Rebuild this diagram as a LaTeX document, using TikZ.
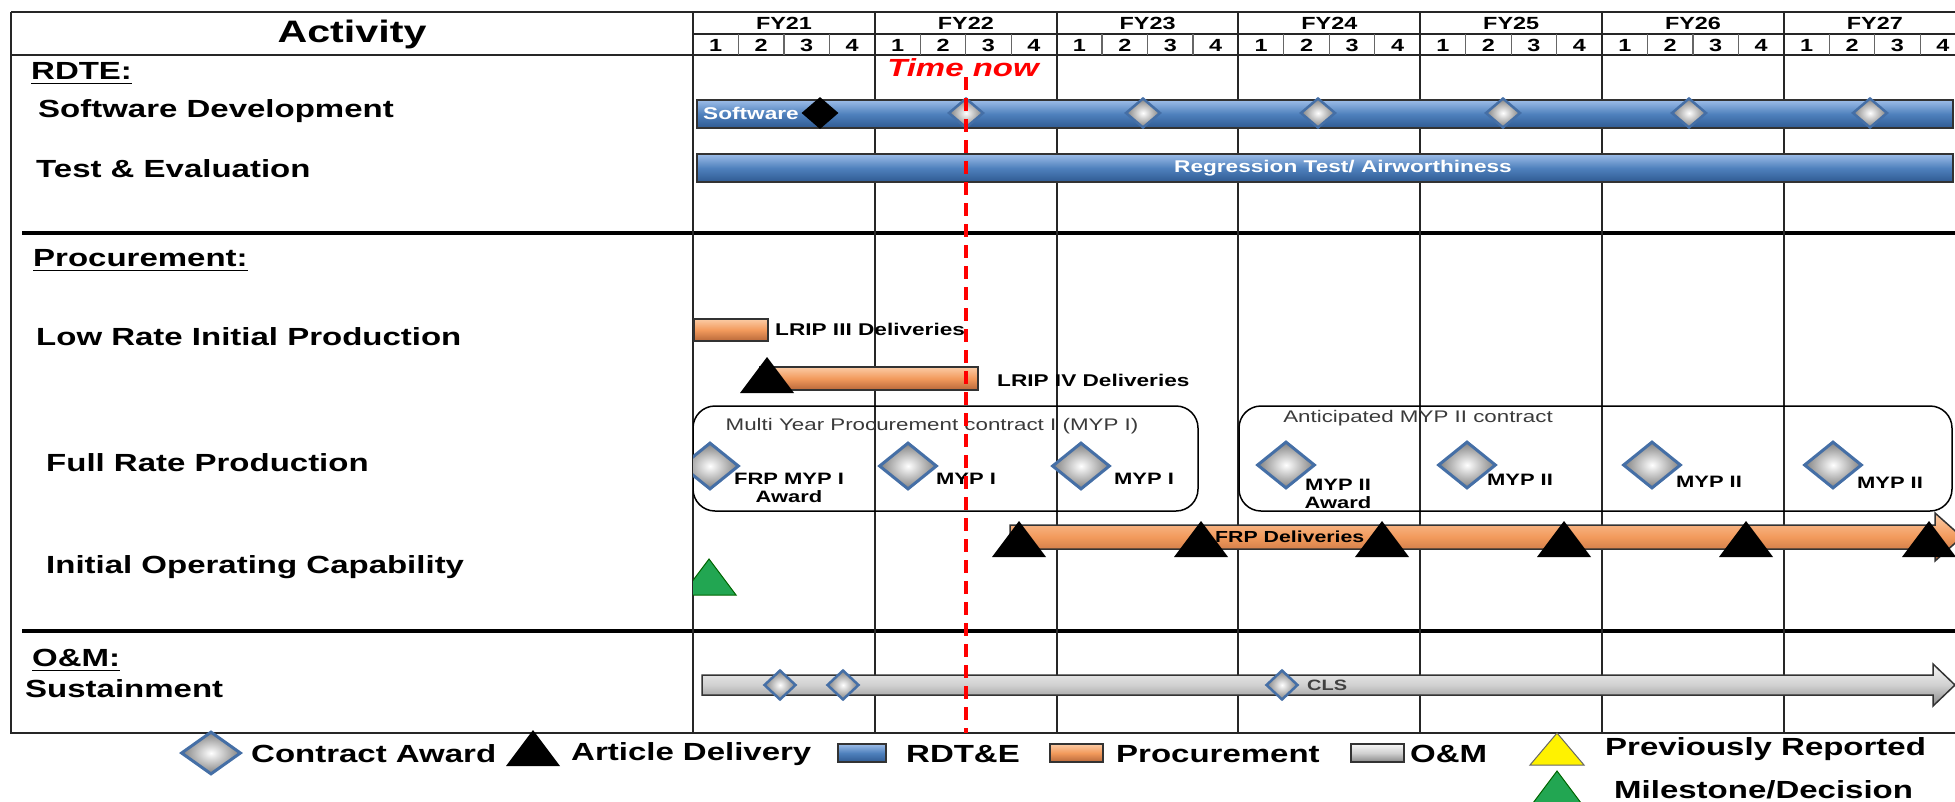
\documentclass[tikz,border=0pt]{standalone}
\usepackage{fontspec}
\setmainfont{Liberation Sans}[FakeStretch=1.33]
\usetikzlibrary{shapes.geometric}

\definecolor{barblue}{HTML}{4F81BD}
\definecolor{barbluelt}{HTML}{9DBDE8}
\definecolor{barbluedk}{HTML}{2F5A92}
\definecolor{barorange}{HTML}{F29A5C}
\definecolor{barorangelt}{HTML}{FBCBA5}
\definecolor{barorangedk}{HTML}{B8683A}
\definecolor{barsilver}{HTML}{D0D0D0}
\definecolor{barsilverlt}{HTML}{F7F7F7}
\definecolor{barsilverdk}{HTML}{888888}
\definecolor{diablue}{HTML}{456FA6}
\definecolor{msgreen}{HTML}{22A652}
\definecolor{boxtext}{HTML}{3A3A3A}

\newcommand{\actfnt}{\fontsize{31}{34}\selectfont\bfseries}
\newcommand{\rowfnt}{\fontsize{24.8}{28}\selectfont\bfseries}
\newcommand{\hdrfnt}{\fontsize{17.6}{20}\selectfont\bfseries}
\newcommand{\barfnt}{\fontsize{17}{20}\selectfont\bfseries}
\newcommand{\boxfnt}{\fontsize{16.8}{19}\selectfont}
\newcommand{\mypfnt}{\fontsize{16.5}{18}\selectfont\bfseries}
\newcommand{\clsfnt}{\fontsize{15}{17}\selectfont\bfseries}

\tikzset{%
    delivery/.pic={\fill[black] (-27,18) -- (0,-18) -- (27,18) -- cycle;},
    milestone/.pic={\draw[fill=msgreen, draw=black!60!green, line width=1] (-27,18) -- (0,-18) -- (27,18) -- cycle;},
    reported/.pic={\draw[fill=yellow, draw=black!60, line width=1] (-27,16) -- (0,-16) -- (27,16) -- cycle;}
}

\begin{document}
\begin{tikzpicture}[
        x=1pt, y=-1pt,
        rowlbl/.style={anchor=west, inner sep=0, font=\rowfnt},
        hdrlbl/.style={inner sep=0, font=\hdrfnt},
        gridline/.style={line width=2, draw=black!85},
        qline/.style={line width=1.2, draw=black!60},
        seprule/.style={line width=4.5, draw=black},
        rdtebar/.style={draw=black!80, line width=1.5, top color=barbluelt, bottom color=barbluedk, middle color=barblue},
        procbar/.style={draw=black!80, line width=1.5, top color=barorangelt, bottom color=barorangedk, middle color=barorange},
        ombar/.style={draw=black!80, line width=1.5, top color=barsilverlt, bottom color=barsilverdk, middle color=barsilver},
        award/.style={diamond, inner sep=0, draw=diablue, line width=3, inner color=white, outer color=black!50, minimum width=58, minimum height=47},
        award small/.style={award, line width=2.5, minimum width=35, minimum height=30},
        award tiny/.style={award, line width=2.5, minimum width=32, minimum height=30},
        blkdia/.style={diamond, inner sep=0, fill=black, minimum width=37, minimum height=32},
        boxlbl/.style={inner sep=0, font=\boxfnt, text=boxtext},
        myplbl/.style={inner sep=0, font=\mypfnt, align=center},
        barlbl/.style={inner sep=0, font=\barfnt},
        contract/.style={line width=1.5, rounded corners=22},
        nowline/.style={red, line width=3.5, dash pattern=on 13pt off 8pt}
        ]
        \useasboundingbox (0,0) rectangle (1955,801);

        % table frame
        \draw[gridline] (11,12) -- (1955,12);
        \draw[gridline] (11,12) -- (11,733) -- (1955,733);
        \draw[gridline] (693,12) -- (693,733);
        \draw[gridline] (693,34) -- (1955,34);
        \draw[gridline] (11,55) -- (1955,55);
        \draw[seprule] (22,233) -- (1955,233);
        \draw[seprule] (22,631) -- (1955,631);

        % fiscal years and quarters
        \foreach \yr [count=\i from 0] in {21,...,27} {
            \draw[gridline] (693+181.8*\i,12) -- (693+181.8*\i,733);
            \node[hdrlbl] (fy\yr) at (784+181.8*\i,23) {FY\yr};
            \foreach \q in {1,...,4} {
                \draw[qline] (693+181.8*\i+45.45*\q,34) -- (693+181.8*\i+45.45*\q,55);
                \node[hdrlbl] (q\yr\q) at (670.3+181.8*\i+45.45*\q,45) {\q};
            }
        }

        % activity column
        \node[font=\actfnt, inner sep=0] (act) at (352,34) {Activity};
        \node[rowlbl] (rdte) at (31,71) {RDTE:};
        \draw[line width=1.8] ([yshift=-4pt]rdte.base west) -- ([yshift=-4pt]rdte.base east);
        \node[rowlbl] (swdev) at (38,111) {Software Development};
        \node[rowlbl] (testev) at (36,169) {Test \& Evaluation};
        \node[rowlbl] (proc) at (33,258) {Procurement:};
        \draw[line width=1.8] ([yshift=-4pt]proc.base west) -- ([yshift=-4pt]proc.base east);
        \node[rowlbl] (lrip) at (36,337) {Low Rate Initial Production};
        \node[rowlbl] (frp) at (46,463) {Full Rate Production};
        \node[rowlbl] (ioc) at (46,567) {Initial Operating Capability};
        \node[rowlbl] (om) at (32,658) {O\&M:};
        \draw[line width=1.8] ([yshift=-4pt]om.base west) -- ([yshift=-4pt]om.base east);
        \node[rowlbl] (sust) at (25,689) {Sustainment};

        \begin{scope}
        \clip (693,55) rectangle (1955,733);
        % RDTE bars
        \draw[rdtebar] (697,100) rectangle (1953,128);
        \node[barlbl, text=white, anchor=west] (swlbl) at (703,113) {Software};
        \node[blkdia] (sw0) at (820,113) {};
        \node[award small] (sw1) at (966,113) {};
        \node[award small] (sw2) at (1143,113) {};
        \node[award small] (sw3) at (1318,113) {};
        \node[award small] (sw4) at (1503,113) {};
        \node[award small] (sw5) at (1689,113) {};
        \node[award small] (sw6) at (1870,113) {};
        \draw[rdtebar] (697,154) rectangle (1953,182);
        \node[barlbl, text=white] (regr) at (1343,168) {Regression Test/ Airworthiness};

        % LRIP
        \draw[procbar] (694,319) rectangle (768,341);
        \node[barlbl, anchor=west] (lrip3) at (775,329) {LRIP III Deliveries};
        \draw[procbar] (760,367) rectangle (978,390);
        \pic at (767,375) {delivery};
        \node[barlbl, anchor=west] (lrip4) at (997,380) {LRIP IV Deliveries};

        % MYP I
        \draw[contract] (693,406) rectangle (1198,511);
        \node[boxlbl] (myp1) at (932,426) {Multi Year Procurement contract I (MYP I)};
        \node[award] (a1) at (710,466) {};
        \node[myplbl] (a1lbl) at (789,488) {FRP MYP I\\Award};
        \node[award] (a2) at (908,466) {};
        \node[myplbl] (a2lbl) at (966,479) {MYP I};
        \node[award] (a3) at (1081,466) {};
        \node[myplbl] (a3lbl) at (1144,479) {MYP I};

        % MYP II
        \draw[contract] (1239,406) rectangle (1952,511);
        \node[boxlbl] (myp2) at (1418,418) {Anticipated MYP II contract};
        \node[award] (b1) at (1286,465) {};
        \node[myplbl] (b1lbl) at (1338,494) {MYP II\\Award};
        \node[award] (b2) at (1467,465) {};
        \node[myplbl] (b2lbl) at (1520,480) {MYP II};
        \node[award] (b3) at (1652,465) {};
        \node[myplbl] (b3lbl) at (1709,482) {MYP II};
        \node[award] (b4) at (1833,465) {};
        \node[myplbl] (b4lbl) at (1890,483) {MYP II};

        % FRP deliveries
        \draw[procbar] (1010,525) -- (1935,525) -- (1935,513) -- (1962,537) -- (1935,561) -- (1935,549) -- (1010,549) -- cycle;
        \pic at (1019,539) {delivery};
        \pic at (1201,539) {delivery};
        \pic at (1382,539) {delivery};
        \pic at (1564,539) {delivery};
        \pic at (1746,539) {delivery};
        \pic at (1929,539) {delivery};
        \node[inner sep=0, font=\fontsize{16}{18}\selectfont\bfseries, anchor=west] (frpdel) at (1215,537) {FRP Deliveries};

        % IOC
        \pic at (709,577) {milestone};

        % sustainment
        \draw[ombar] (702,675) -- (1933,675) -- (1933,664) -- (1955,685) -- (1933,706) -- (1933,695) -- (702,695) -- cycle;
        \node[award tiny] (s1) at (780,685) {};
        \node[award tiny] (s2) at (843,685) {};
        \node[award tiny] (s3) at (1282,685) {};
        \node[inner sep=0, font=\clsfnt, text=black!75, anchor=west] (cls) at (1307,685) {CLS};
        \end{scope}

        % time now
        \node[inner sep=0, text=red, font=\rowfnt\itshape] (tnow) at (963,68) {Time now};
        \coordinate (tend) at (966,733);
        \draw[nowline] (tnow.south -| tend) -- (tend);

        % legend
        \node[award, minimum width=60, minimum height=43] (lgaward) at (211,753) {};
        \node[rowlbl] (lgawardtxt) at (251,754) {Contract Award};
        \pic at (533,748) {delivery};
        \node[rowlbl] (lgdel) at (571,754) {Article Delivery};
        \draw[rdtebar] (838,744) rectangle (886,762);
        \node[rowlbl] (lgrdte) at (906,754) {RDT\&E};
        \draw[procbar] (1050,744) rectangle (1103,762);
        \node[rowlbl] (lgproc) at (1116,754) {Procurement};
        \draw[ombar] (1351,744) rectangle (1404,762);
        \node[rowlbl] (lgom) at (1410,754) {O\&M};
        \pic at (1557,749) {reported};
        \node[rowlbl] (lgprev) at (1605,749) {Previously Reported};
        \pic at (1557,789) {milestone};
        \node[rowlbl] (lgmile) at (1614,790) {Milestone/Decision};
    \end{tikzpicture}
\end{document}
